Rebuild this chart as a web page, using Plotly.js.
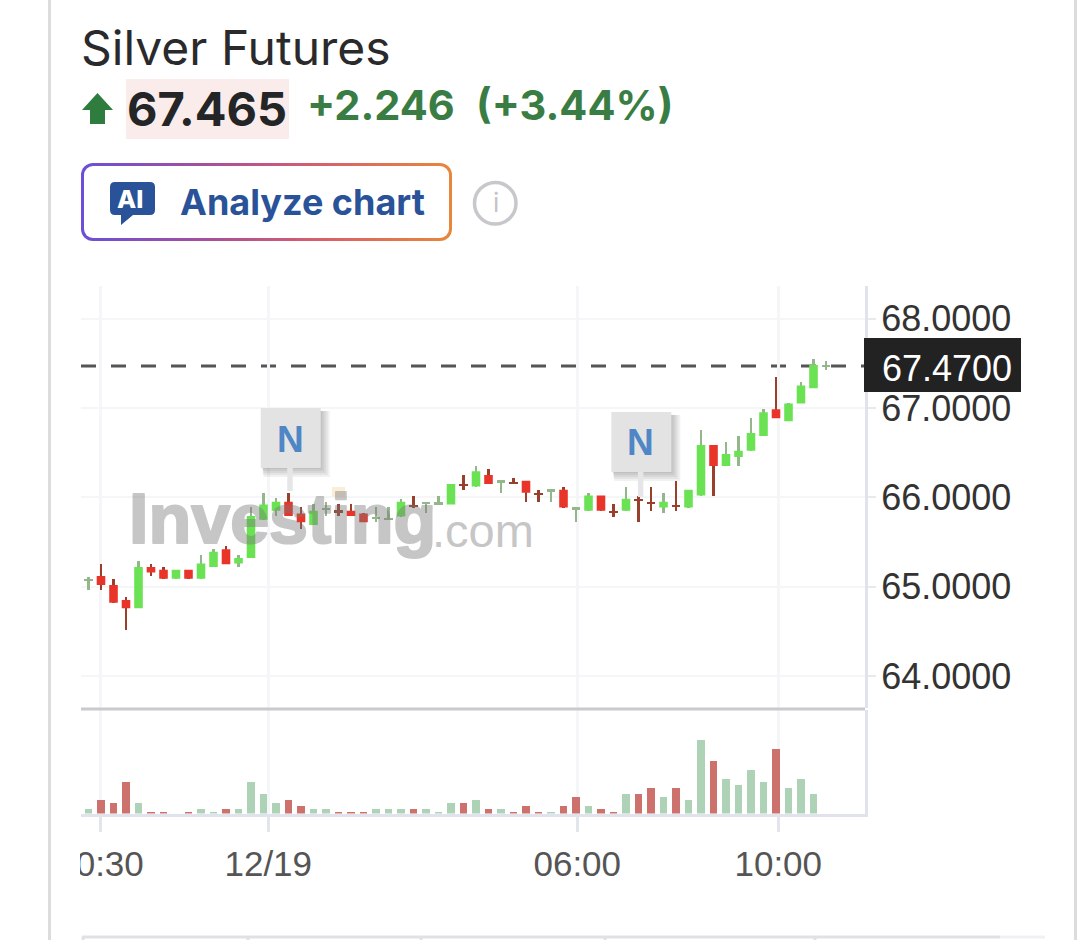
<!DOCTYPE html>
<html><head><meta charset="utf-8">
<script src="https://cdn.plot.ly/plotly-3.0.1.min.js"></script>
<style>
html,body{margin:0;padding:0;background:#fff;width:1084px;height:940px;overflow:hidden}
#btn{position:absolute;left:81px;top:163px;width:371px;height:78px;border-radius:12px;box-sizing:border-box;padding:3px;background:linear-gradient(90deg,#6a4fd8 0%,#a8509a 35%,#d8606a 65%,#e8873a 100%)}
#btn div{width:100%;height:100%;background:#fff;border-radius:9px}
#chart{position:absolute;left:0;top:0;width:1084px;height:940px}
</style></head><body>
<div id="btn"><div></div></div>
<div id="chart"></div>
<script>
const open_ = [65.07,65.12,65.02,64.85,64.76,65.22,65.19,65.09,65.19,65.09,65.22,65.42,65.26,65.32,65.75,65.85,65.95,65.82,65.69,65.86,65.85,65.85,65.82,65.755,65.75,65.785,65.92,65.93,65.92,65.92,66.15,66.12,66.25,66.165,66.175,66.185,66.05,66.065,66.085,65.865,65.85,66.02,65.85,65.85,65.985,65.95,65.885,65.92,65.885,66.02,66.585,66.35,66.45,66.52,66.685,66.985,66.85,67.05,67.22,67.46];
const high_ = [65.11,65.25,65.09,64.89,65.29,65.25,65.22,65.19,65.19,65.35,65.42,65.45,65.35,65.89,66.05,65.99,66.05,65.89,65.92,65.95,65.92,65.92,65.82,65.89,65.89,65.985,66.02,65.95,66.02,66.15,66.25,66.35,66.32,66.185,66.22,66.185,66.085,66.085,66.12,65.885,66.05,66.02,65.92,66.12,66.02,66.12,66.05,66.185,66.085,66.75,66.585,66.62,66.685,66.885,66.985,67.35,67.05,67.285,67.55,67.52];
const low_ = [64.96,64.96,64.82,64.52,64.76,65.12,65.09,65.09,65.09,65.09,65.22,65.25,65.22,65.32,65.75,65.79,65.79,65.65,65.69,65.79,65.79,65.79,65.72,65.72,65.75,65.785,65.885,65.82,65.92,65.92,66.085,66.12,66.15,66.05,66.15,65.95,65.95,65.95,65.885,65.72,65.85,65.85,65.785,65.85,65.72,65.85,65.82,65.85,65.885,66.02,66.02,66.35,66.35,66.52,66.685,66.885,66.85,67.05,67.22,67.42];
const close_ = [65.08,65.02,64.82,64.76,65.22,65.16,65.09,65.19,65.09,65.26,65.39,65.25,65.32,65.79,65.92,65.95,65.79,65.72,65.85,65.885,65.83,65.79,65.72,65.785,65.767,65.95,65.885,65.95,65.94,66.15,66.125,66.29,66.15,66.185,66.15,66.05,66.03,66.085,65.885,65.885,66.02,65.85,65.82,65.985,65.95,65.92,65.95,65.885,66.085,66.585,66.35,66.485,66.52,66.72,66.95,66.885,67.05,67.25,67.48,67.485];
const volume = [4.7,14,11,32,11,2,2,0,2,4.7,2,4.7,4.7,32,20,11,14,8,4.7,4.7,2,2,2,4.7,4.7,4.7,4.7,4.7,2,11,11,14,4.7,4.7,2,8,2,2,8,17,8,4.7,2,20,20,26,17,26,14,74,53,35,29,44,32,65,26,35,20,0];
const volumeDirection = "u d d d u d d u d u u d u u u u d d u u d d d u u u d u u u d u d u d d d u d d u d d u d d u d u u d u u u u d u u u u".split(" ");
const xTickPositions = [0.92,14.38,39.1,55.18];
const xTickLabels = ["10:30","12/19","06:00","10:00"];
const yTicks = [64,65,66,67,68];
const yTickLabels = ["64.0000","65.0000","66.0000","67.0000","68.0000"];
const newsMarkers = [16.1,44.15];
const lastPrice = 67.47;
const lastPriceLabel = "67.4700";

const W=1084,H=940;
const px=x=>x/W, py=y=>1-y/H;
const idx=open_.map((_,i)=>i);
const DOJI=0.04;
const isDoji=i=>Math.abs(open_[i]-close_[i])<DOJI;
const bodyIdx=idx.filter(i=>!isDoji(i));
const dojiIdx=idx.filter(isDoji);
const up=i=>close_[i]>=open_[i];
const WICK_UP="#93b78a",WICK_DN="#98402c",BODY_UP="#6be254",BODY_DN="#e9342a";

const traces=[
 {type:"bar",name:"wick",x:idx,y:idx.map(i=>high_[i]-low_[i]),base:low_,width:0.22,
  marker:{color:idx.map(i=>up(i)?WICK_UP:WICK_DN),line:{width:0}},hoverinfo:"skip",showlegend:false},
 {type:"bar",name:"doji",x:dojiIdx,y:dojiIdx.map(()=>0.026),base:dojiIdx.map(i=>(open_[i]+close_[i])/2-0.013),width:0.7,
  marker:{color:dojiIdx.map(i=>up(i)?WICK_UP:WICK_DN),line:{width:0}},hoverinfo:"skip",showlegend:false},
 {type:"candlestick",name:"Silver Futures",x:bodyIdx,open:bodyIdx.map(i=>open_[i]),high:bodyIdx.map(i=>high_[i]),low:bodyIdx.map(i=>low_[i]),close:bodyIdx.map(i=>close_[i]),
  increasing:{line:{color:BODY_UP,width:0},fillcolor:BODY_UP},decreasing:{line:{color:BODY_DN,width:0},fillcolor:BODY_DN},
  whiskerwidth:0,showlegend:false,hoverinfo:"skip"},
 {type:"bar",name:"Volume",x:idx,y:volume,yaxis:"y2",width:0.6,
  marker:{color:volumeDirection.map(d=>d==="u"?"#aed2b5":"#cd716c"),line:{width:0}},hoverinfo:"skip",showlegend:false}
];

const rect=(x0,y0,x1,y1,fill,layer)=>({type:"rect",xref:"paper",yref:"paper",x0:px(x0),x1:px(x1),y0:py(y1),y1:py(y0),fillcolor:fill,line:{width:0},layer:layer||"above"});
const seg=(x0,y0,x1,y1,c,w)=>({type:"line",xref:"paper",yref:"paper",x0:px(x0),x1:px(x1),y0:py(y0),y1:py(y1),line:{color:c,width:w},layer:"above"});
const xPix=i=>88.5+12.5*i;
const shapes=[
 seg(49.5,0,49.5,940,"#dcdcdc",3), seg(1075.5,0,1075.5,940,"#dcdcdc",3),
 seg(82,937,1000,937,"#dfe1e6",3), seg(1000,937,1045,937,"#f0f1f3",3),
 seg(83,937,83,940,"#dfe1e6",3), seg(248,937,248,940,"#dfe1e6",3), seg(421,937,421,940,"#dfe1e6",3), seg(605,937,605,940,"#dfe1e6",3), seg(815,937,815,940,"#dfe1e6",3),
 rect(126,79,289,139,"#f9eceb","below"),
 {type:"path",xref:"paper",yref:"paper",path:`M ${px(97.5)} ${py(93)} L ${px(113)} ${py(110)} L ${px(105)} ${py(110)} L ${px(105)} ${py(124)} L ${px(90)} ${py(124)} L ${px(90)} ${py(110)} L ${px(82)} ${py(110)} Z`,fillcolor:"#2f7d3e",line:{width:0},layer:"above"},
 {type:"path",xref:"paper",yref:"paper",path:`M ${px(115)} ${py(182)} L ${px(150)} ${py(182)} Q ${px(155)} ${py(182)} ${px(155)} ${py(187)} L ${px(155)} ${py(210)} Q ${px(155)} ${py(215)} ${px(150)} ${py(215)} L ${px(133)} ${py(215)} L ${px(121)} ${py(225)} L ${px(121)} ${py(215)} L ${px(115)} ${py(215)} Q ${px(110)} ${py(215)} ${px(110)} ${py(210)} L ${px(110)} ${py(187)} Q ${px(110)} ${py(182)} ${px(115)} ${py(182)} Z`,fillcolor:"#2a5298",line:{width:0},layer:"above"},
 {type:"circle",xref:"paper",yref:"paper",x0:px(474.5),x1:px(516),y0:py(224),y1:py(182.5),fillcolor:"rgba(0,0,0,0)",line:{color:"#c8c8cc",width:3.5},layer:"above"},
 {type:"line",xref:"paper",yref:"y",x0:px(81),x1:px(864),y0:lastPrice,y1:lastPrice,line:{color:"#555555",width:3,dash:"15px,15px"},layer:"between"},
 seg(81,709,865,709,"#c9cace",3),
 rect(864,338,1021,392,"#222222"),
 rect(52,832,80,885,"#ffffff"),
 rect(332,487,345,497,"#fbeed8")
];
newsMarkers.forEach((m,k)=>{
 const cx=xPix(m), top=k===0?408:412, tail=k===0?491:497;
 const L=cx-29,R=cx+31,B=top+60;
 [9,7,5,3,1].forEach(o=>shapes.push(rect(L+1+o*0.2,top+3,R+o,B+o,"rgba(60,60,60,0.07)")));
 shapes.push(rect(L,top,R,B,"#e3e3e4"));
 shapes.push(rect(cx-2.5,B,cx+3,tail,"#e6e6e8"));
});

const font="Inter, 'Liberation Sans', sans-serif";
const lib="'Liberation Sans', sans-serif";
const ann=(x,y,text,size,color,weight,extra)=>Object.assign({xref:"paper",yref:"paper",x:px(x),y:py(y),xanchor:"left",yanchor:"middle",text,showarrow:false,borderpad:0,font:{family:font,size,color,weight:weight||400}},extra||{});
const annotations=[
 ann(80,47,"Silver Futures",48,"#2a2a2c",400),
 ann(126,109,"67.465",47,"#232526",700),
 ann(306,105,"+2.246",41.5,"#3a7d44",700),
 ann(475,105,"(+3.44%)",41.5,"#3a7d44",700),
 ann(179,202,"Analyze chart",36,"#2a5298",700),
 ann(116,199,"AI",25,"#ffffff",800),
 ann(495.5,203,"i",26,"#c4c4c8",400,{xanchor:"center"}),
 ann(881,368,lastPriceLabel,36,"#ffffff",400,{font:{family:lib,size:36,color:"#ffffff"}}),
 ann(128,519,"<b>Investing</b>",70,"#787878",700,{opacity:0.42,font:{family:lib,size:70,color:"#787878"}}),
 ann(431,530,".com",47,"#787878",400,{opacity:0.42,font:{family:lib,size:47,color:"#787878"}})
];
newsMarkers.forEach((m,k)=>annotations.push(ann(xPix(m)+0.5,k===0?439:442,"N",37,"#4f86c6",700,{xanchor:"center",font:{family:lib,size:37,color:"#4f86c6",weight:700}})));

const layout={
 width:W,height:H,margin:{l:0,r:0,t:0,b:0},paper_bgcolor:"rgba(0,0,0,0)",plot_bgcolor:"rgba(0,0,0,0)",
 barmode:"overlay",bargap:0,boxmode:"overlay",boxgap:0.02,showlegend:false,dragmode:false,
 font:{family:lib},
 xaxis:{domain:[px(81),px(865)],range:[-0.6,62.12],anchor:"y2",type:"linear",tickmode:"array",tickvals:xTickPositions,ticktext:xTickLabels,
   rangeslider:{visible:false},showgrid:true,gridcolor:"#f5f6f8",gridwidth:3,zeroline:false,
   showline:true,linecolor:"#e0e3eb",linewidth:3,ticks:"outside",ticklen:15,tickwidth:3,tickcolor:"#e3e5ec",
   tickfont:{size:35,color:"#555555",family:lib},ticklabelstandoff:2},
 yaxis:{domain:[py(708),py(286)],range:[66-(708-497.3)/89.4,66+(497.3-286)/89.4],side:"right",anchor:"x",tickmode:"array",tickvals:yTicks,ticktext:yTickLabels,
   showgrid:true,gridcolor:"#f5f6f8",gridwidth:2,zeroline:false,showline:true,linecolor:"#e0e3eb",linewidth:3,ticks:"outside",ticklen:8,tickwidth:2,tickcolor:"#e8e9ee",
   tickfont:{size:36,color:"#333333",family:lib},ticklabelstandoff:-2},
 yaxis2:{domain:[py(813.5),py(710)],range:[0,103.5],side:"right",anchor:"x",showticklabels:false,ticks:"",showgrid:false,zeroline:false,showline:true,linecolor:"#e0e3eb",linewidth:3},
 shapes,annotations
};
Plotly.newPlot("chart",traces,layout,{displayModeBar:false,staticPlot:true}).then(()=>{
 document.querySelectorAll("#chart .annotation text").forEach(t=>{
  if(t.textContent==="Investing"){t.style.stroke="#787878";t.style.strokeWidth="2.2px";t.style.strokeLinejoin="round";}
 });
});
</script>
</body></html>
